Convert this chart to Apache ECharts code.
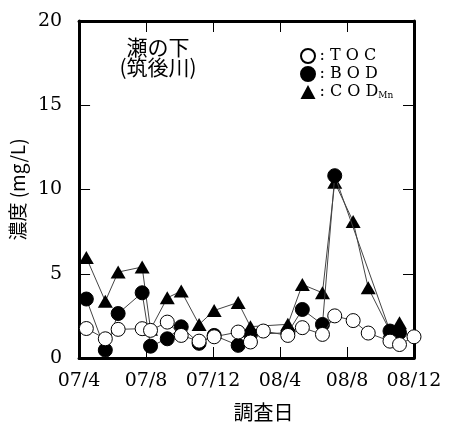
<!DOCTYPE html>
<html>
<head>
<meta charset="utf-8">
<script src="https://cdn.jsdelivr.net/npm/echarts@6/dist/echarts.min.js"></script>
<style>html,body{margin:0;padding:0;background:#fff}#c{width:449px;height:427px}</style>
</head>
<body>
<div id="c"></div>
<script>
var dates = ['2007-04-14','2007-05-18','2007-06-11','2007-07-24','2007-08-09','2007-09-09','2007-10-04','2007-11-06','2007-12-03','2008-01-16','2008-02-08','2008-03-01','2008-04-15','2008-05-11','2008-06-17','2008-07-09','2008-08-12','2008-09-09','2008-10-18','2008-11-05','2008-12-01'];
var toc = [1.75, 1.14, 1.7, 1.74, 1.64, 2.13, 1.34, 1.0, 1.26, 1.54, 0.95, 1.6, 1.34, 1.8, 1.4, 2.5, 2.22, 1.48, 1.0, 0.8, 1.26];
var bod = [3.5, 0.47, 2.64, 3.87, 0.7, 1.14, 1.85, 0.87, 1.34, 0.75, 1.4, null, 1.5, 2.88, 1.99, 10.82, null, null, 1.6, 1.5, null];
var cod = [5.96, 3.37, 5.1, 5.4, 1.7, 3.57, 3.97, 1.99, 2.82, 3.3, 1.86, null, 2.0, 4.36, 3.87, 10.43, 8.1, 4.17, 1.6, 2.09, null];
var xTickLabels = ['07/4', '07/8', '07/12', '08/4', '08/8', '08/12'];
var yTicks = [0, 5, 10, 15, 20];
var siteName = '瀬の下';
var riverName = '(筑後川)';

function monthOffset(s) {
  var p = s.split('-').map(Number);
  return (p[0] - 2007) * 12 + (p[1] - 4) + (p[2] - 1) / 30;
}
function pairs(vals) {
  return vals.map(function (v, i) { return [monthOffset(dates[i]), v]; });
}
var serif = '"DejaVu Serif", "Liberation Serif", serif';
var cjk = '"Noto Sans CJK JP", sans-serif';

var chart = echarts.init(document.getElementById('c'));
var axisLine = { show: true, onZero: false, lineStyle: { color: '#000', width: 3 } };
var tick = { show: true, inside: true, length: 11, lineStyle: { color: '#000', width: 1 } };
var lineCol = '#444';

chart.setOption({
  animation: false,
  backgroundColor: '#fff',
  grid: { left: 75, right: 35, top: 21, bottom: 69 },
  graphic: [{
    type: 'text', x: 158, y: 37, z: 10,
    style: { text: siteName + '\n' + riverName, font: '21px ' + cjk, fill: '#000', align: 'center', verticalAlign: 'top', lineHeight: 20 }
  }],
  legend: {
    orient: 'vertical', left: 295, top: 43, itemGap: 2, itemWidth: 15, itemHeight: 14,
    data: [
      { name: 'TOC', icon: 'circle' },
      { name: 'BOD', icon: 'circle' },
      { name: 'COD', icon: 'triangle' }
    ],
    formatter: function (n) { return n === 'COD' ? ': C O D{sub|Mn}' : ': ' + n.split('').join(' '); },
    textStyle: { fontFamily: serif, fontSize: 16, color: '#000', padding: [0, 0, 0, -1],
      rich: { sub: { fontFamily: serif, fontSize: 9, verticalAlign: 'bottom', padding: [7, 0, 0, 0] } } }
  },
  xAxis: [{
    type: 'value', min: 0, max: 20, interval: 4, position: 'bottom',
    axisLine: axisLine, axisTick: tick, splitLine: { show: false },
    axisLabel: { margin: 14, fontFamily: serif, fontSize: 19, color: '#000',
      formatter: function (v) { return xTickLabels[Math.round(v / 4)]; } },
    name: '調査日', nameLocation: 'middle', nameGap: 44,
    nameTextStyle: { fontFamily: cjk, fontSize: 20, color: '#000', padding: [0, 0, 0, 34] }
  }, {
    type: 'value', min: 0, max: 20, interval: 4, position: 'top',
    axisLine: axisLine, axisTick: tick, splitLine: { show: false }, axisLabel: { show: false }
  }],
  yAxis: [{
    type: 'value', min: 0, max: 20, interval: 5, position: 'left',
    axisLine: axisLine, axisTick: tick, splitLine: { show: false },
    axisLabel: { margin: 17, fontFamily: serif, fontSize: 19, color: '#000',
      formatter: function (v) { return yTicks.indexOf(v) >= 0 ? String(v) : ''; } },
    name: '濃度 (mg/L)', nameLocation: 'middle', nameGap: 32,
    nameTextStyle: { fontFamily: cjk, fontSize: 19, color: '#000' }
  }, {
    type: 'value', min: 0, max: 20, interval: 5, position: 'right',
    axisLine: axisLine, axisTick: tick, splitLine: { show: false }, axisLabel: { show: false }
  }],
  series: [{
    name: 'COD', type: 'line', data: pairs(cod), connectNulls: true,
    symbol: 'triangle', symbolSize: [15, 13],
    itemStyle: { color: '#000', borderColor: '#000', borderWidth: 0 },
    lineStyle: { color: lineCol, width: 1 }, z: 2
  }, {
    name: 'BOD', type: 'line', data: pairs(bod), connectNulls: true,
    symbol: 'circle', symbolSize: 14,
    itemStyle: { color: '#000', borderColor: '#000', borderWidth: 1 },
    lineStyle: { color: lineCol, width: 1 }, z: 3
  }, {
    name: 'TOC', type: 'line', data: pairs(toc), connectNulls: true,
    symbol: 'circle', symbolSize: 14,
    itemStyle: { color: '#fff', borderColor: '#000', borderWidth: 1 },
    lineStyle: { color: lineCol, width: 1 }, z: 4
  }]
});
</script>
</body>
</html>
